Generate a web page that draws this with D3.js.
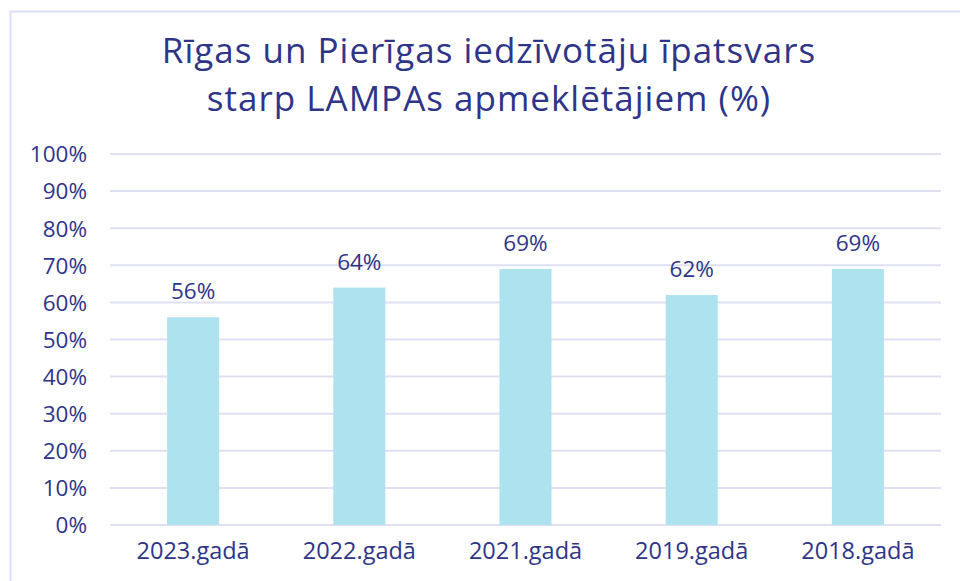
<!DOCTYPE html>
<html>
<head>
<meta charset="utf-8">
<script src="https://cdn.jsdelivr.net/npm/d3@7/dist/d3.min.js"></script>
<style>
  body { margin: 0; background: #fff; }
  text { font-family: "Open Sans", Lato, sans-serif; fill: #2e3589; }
</style>
</head>
<body>
<div id="chart"></div>
<script>
// data
var years = ["2023.gadā", "2022.gadā", "2021.gadā", "2019.gadā", "2018.gadā"];
var shares = [56, 64, 69, 62, 69];
var yTicks = [0, 10, 20, 30, 40, 50, 60, 70, 80, 90, 100];
var titleLines = ["Rīgas un Pierīgas iedzīvotāju īpatsvars", "starp LAMPAs apmeklētājiem (%)"];

var W = 960, H = 581;
var margin = {top: 154, right: 19, bottom: 56, left: 110},
    width = W - margin.left - margin.right,
    height = H - margin.top - margin.bottom;

var svg = d3.select("#chart").append("svg")
    .attr("width", W)
    .attr("height", H);

// outer frame
svg.append("rect")
    .attr("x", 10.5).attr("y", 11.5)
    .attr("width", W + 20).attr("height", H + 20)
    .attr("fill", "none")
    .attr("stroke", "#dcdff3")
    .attr("stroke-width", 2);

// title
svg.append("g").selectAll("text")
    .data(titleLines)
    .enter().append("text")
    .attr("x", 489)
    .attr("y", function (d, i) { return 63 + i * 48; })
    .attr("text-anchor", "middle")
    .style("font-size", "35px")
    .style("letter-spacing", "1px")
    .text(function (d) { return d; });

var g = svg.append("g")
    .attr("transform", "translate(" + margin.left + "," + margin.top + ")");

var x = d3.scaleBand().domain(years).range([0, width]).paddingInner(0.687).paddingOuter(0.3435);
var y = d3.scaleLinear().domain([0, 100]).range([height, 0]);

// grid lines
g.append("g").selectAll("line")
    .data(yTicks)
    .enter().append("line")
    .attr("x1", 0).attr("x2", width)
    .attr("y1", function (d) { return y(d); })
    .attr("y2", function (d) { return y(d); })
    .attr("stroke", "#dfe0f3")
    .attr("stroke-width", 2);

// y axis
var yAxis = d3.axisLeft(y).tickValues(yTicks).tickSize(0).tickPadding(23)
    .tickFormat(function (d) { return d + "%"; });
g.append("g").call(yAxis)
    .call(function (a) { a.select(".domain").remove(); })
    .selectAll("text")
    .style("font-size", "22.5px")
    .attr("fill", null)
    .attr("dy", "0.35em");

// x axis
var xAxis = d3.axisBottom(x).tickSize(0).tickPadding(17);
g.append("g")
    .attr("transform", "translate(0," + height + ")")
    .call(xAxis)
    .call(function (a) { a.select(".domain").remove(); })
    .selectAll("text")
    .style("font-size", "23.5px")
    .attr("fill", null);

// bars
g.append("g").selectAll("rect")
    .data(shares)
    .enter().append("rect")
    .attr("x", function (d, i) { return x(years[i]); })
    .attr("y", function (d) { return y(d); })
    .attr("width", x.bandwidth())
    .attr("height", function (d) { return height - y(d); })
    .attr("fill", "#ade3ef");

// value labels
g.append("g").selectAll("text")
    .data(shares)
    .enter().append("text")
    .attr("x", function (d, i) { return x(years[i]) + x.bandwidth() / 2; })
    .attr("y", function (d) { return y(d) - 18; })
    .attr("text-anchor", "middle")
    .style("font-size", "22.5px")
    .text(function (d) { return d + "%"; });
</script>
</body>
</html>
